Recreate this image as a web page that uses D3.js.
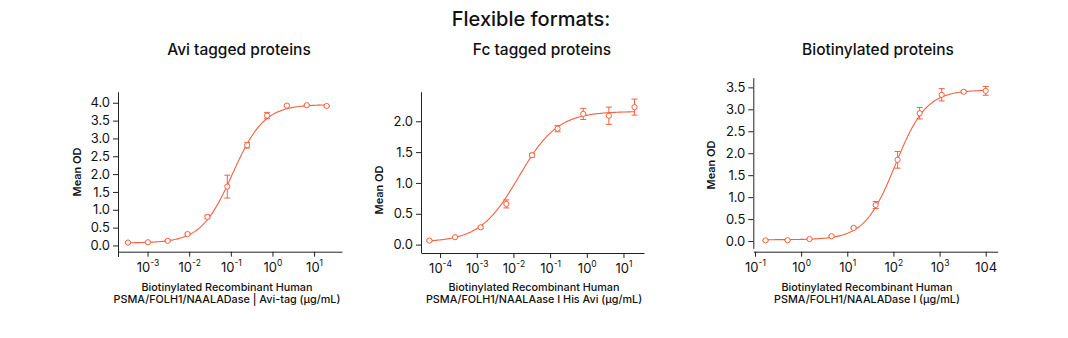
<!DOCTYPE html>
<html><head><meta charset="utf-8">
<script src="https://cdn.jsdelivr.net/npm/d3@7"></script>
<style>
body{margin:0;background:#fff;}
svg{display:block;font-family:Inter,"Noto Sans",sans-serif;}
</style></head>
<body><svg id="c" width="1068" height="338"></svg>
<script>
// ---- data ----
const mainTitle = "Flexible formats:";
const panelTitles = ["Avi tagged proteins", "Fc tagged proteins", "Biotinylated proteins"];
const xLabels = [
  ["Biotinylated Recombinant Human", "PSMA/FOLH1/NAALADase | Avi-tag (µg/mL)"],
  ["Biotinylated Recombinant Human", "PSMA/FOLH1/NAALAase I His Avi (µg/mL)"],
  ["Biotinylated Recombinant Human", "PSMA/FOLH1/NAALADase I (µg/mL)"]
];
const yLabel = "Mean OD";

const conc1 = [0.000339, 0.00102, 0.00305, 0.00914, 0.0274, 0.0823, 0.247, 0.741, 2.22, 6.67, 20];
const od1   = [0.08, 0.09, 0.13, 0.32, 0.80, 1.65, 2.81, 3.64, 3.92, 3.93, 3.91];
const err1  = [0.02, 0.02, 0.02, 0.03, 0.05, 0.32, 0.08, 0.09, 0.02, 0.02, 0.02];
const fit1  = [0.07, 3.95, 0.11, 1.15]; // bottom, top, EC50, hill

const conc2 = [0.0000512, 0.000256, 0.00128, 0.0064, 0.032, 0.16, 0.8, 4, 20];
const od2   = [0.065, 0.12, 0.28, 0.66, 1.45, 1.88, 2.12, 2.09, 2.23];
const err2  = [0.01, 0.01, 0.02, 0.065, 0.03, 0.05, 0.09, 0.14, 0.13];
const fit2  = [0.04, 2.16, 0.014, 0.82];

const conc3 = [0.169, 0.508, 1.52, 4.57, 13.7, 41.2, 123, 370, 1111, 3333, 10000];
const od3   = [0.015, 0.02, 0.045, 0.11, 0.30, 0.82, 1.85, 2.91, 3.33, 3.40, 3.42];
const err3  = [0.01, 0.01, 0.01, 0.02, 0.02, 0.08, 0.19, 0.13, 0.14, 0.03, 0.10];
const fit3  = [0.03, 3.44, 110, 1.3];

const xTicks1 = [1e-3, 1e-2, 1e-1, 1e0, 1e1];
const xTickLabels1 = [["10","-3"],["10","-2"],["10","-1"],["10","0"],["10","1"]];
const xTicks2 = [1e-4, 1e-3, 1e-2, 1e-1, 1e0, 1e1];
const xTickLabels2 = [["10","-4"],["10","-3"],["10","-2"],["10","-1"],["10","0"],["10","1"]];
const xTicks3 = [1e-1, 1e0, 1e1, 1e2, 1e3, 1e4];
const xTickLabels3 = [["10","-1"],["10","0"],["10","1"],["10","2"],["10","3"],["104",""]];

const yTicks1 = [0, 0.5, 1.0, 1.5, 2.0, 2.5, 3.0, 3.5, 4.0];
const yTicks2 = [0, 0.5, 1.0, 1.5, 2.0];
const yTicks3 = [0, 0.5, 1.0, 1.5, 2.0, 2.5, 3.0, 3.5];

// ---- layout ----
const color = "#f4603e";
const axisColor = "#222";
const panels = [
  {conc:conc1, od:od1, err:err1, fit:fit1, xt:xTicks1, xtl:xTickLabels1, yt:yTicks1,
   x0:118, x1:342, xd:[Math.pow(10,-3.71), Math.pow(10,1.67)],
   yTop:91.7, yBot:248.3, yd:[-0.08, 4.31], xAxisY:251.7, yAxisX:118, yExtend:257,
   title:panelTitles[0], titleX:239, ylabX:81, ylabY:172, xl:xLabels[0], xlX:227},
  {conc:conc2, od:od2, err:err2, fit:fit2, xt:xTicks2, xtl:xTickLabels2, yt:yTicks2,
   x0:421, x1:644, xd:[Math.pow(10,-4.52), Math.pow(10,1.56)],
   yTop:91.7, yBot:248, yd:[-0.055, 2.48], xAxisY:253, yAxisX:421, yExtend:253,
   title:panelTitles[1], titleX:542, ylabX:383, ylabY:190, xl:xLabels[1], xlX:534},
  {conc:conc3, od:od3, err:err3, fit:fit3, xt:xTicks3, xtl:xTickLabels3, yt:yTicks3,
   x0:753.3, x1:997.7, xd:[Math.pow(10,-1.037), Math.pow(10,4.26)],
   yTop:77.7, yBot:248.3, yd:[-0.165, 3.72], xAxisY:251.7, yAxisX:753.3, yExtend:null,
   title:panelTitles[2], titleX:878, ylabX:715, ylabY:165, xl:xLabels[2], xlX:867}
];

const svg = d3.select("#c");
svg.append("text").attr("x", 531).attr("y", 25.5).attr("text-anchor","middle")
  .attr("font-size", 20).attr("font-weight", 500).attr("fill","#111").text(mainTitle);

panels.forEach(p => {
  const g = svg.append("g");
  const x = d3.scaleLog().domain(p.xd).range([p.x0, p.x1]);
  const y = d3.scaleLinear().domain(p.yd).range([p.yBot, p.yTop]);

  g.append("text").attr("x", p.titleX).attr("y", 55).attr("text-anchor","middle")
    .attr("font-size", 15.5).attr("font-weight", 500).attr("fill","#111").text(p.title);

  // y axis
  const ya = g.append("g").attr("transform", `translate(${p.yAxisX},0)`)
    .call(d3.axisLeft(y).tickValues(p.yt).tickFormat(d3.format(".1f")).tickSize(5).tickSizeOuter(0));
  ya.selectAll("text").attr("font-size", 13).attr("fill", "#111").attr("font-family","Inter,sans-serif").attr("x", -8);
  ya.selectAll("line,path").attr("stroke", axisColor);
  if (p.yExtend) {
    g.append("line").attr("x1", p.yAxisX + 0.5).attr("x2", p.yAxisX + 0.5)
      .attr("y1", p.yBot).attr("y2", p.yExtend).attr("stroke", axisColor);
  }

  // x axis
  const xa = g.append("g").attr("transform", `translate(0,${p.xAxisY})`)
    .call(d3.axisBottom(x).tickValues(p.xt).tickFormat("").tickSize(5).tickSizeOuter(0));
  xa.selectAll("line,path").attr("stroke", axisColor);
  xa.selectAll(".tick").each(function(d, i) {
    const lab = p.xtl[i];
    const t = d3.select(this).append("text").attr("y", 20).attr("text-anchor","middle")
      .attr("fill","#111").attr("font-size", 13).attr("font-family","Inter,sans-serif");
    t.append("tspan").text(lab[0]);
    if (lab[1]) t.append("tspan").attr("font-size", 8.5).attr("dy", -6).text(lab[1]);
  });

  // y label
  g.append("text").attr("transform", `translate(${p.ylabX},${p.ylabY}) rotate(-90)`)
    .attr("text-anchor","middle").attr("font-size", 11).attr("font-weight", 600).attr("fill","#111").text(yLabel);

  // x label
  p.xl.forEach((s, i) => {
    g.append("text").attr("x", p.xlX).attr("y", 290.5 + i * 12.5).attr("text-anchor","middle")
      .attr("font-size", 10.8).attr("font-weight", 500).attr("fill","#111").text(s);
  });

  // fitted 4PL curve
  const [b, t, ec, h] = p.fit;
  const lx = d3.scaleLinear().domain([0, 200]).range([Math.log10(p.conc[0]), Math.log10(p.conc[p.conc.length-1])]);
  const pts = d3.range(201).map(i => {
    const c = Math.pow(10, lx(i));
    return [c, b + (t - b) / (1 + Math.pow(ec / c, h))];
  });
  g.append("path").datum(pts).attr("fill","none").attr("stroke", color).attr("stroke-width", 1.1)
    .attr("d", d3.line().x(d => x(d[0])).y(d => y(d[1])));

  // error bars
  const data = p.conc.map((c, i) => ({c, v: p.od[i], e: p.err[i]}));
  const eb = g.append("g").attr("stroke", color).attr("stroke-width", 1);
  data.forEach(d => {
    const cx = x(d.c);
    eb.append("line").attr("x1", cx).attr("x2", cx).attr("y1", y(d.v - d.e)).attr("y2", y(d.v + d.e));
    eb.append("line").attr("x1", cx - 3).attr("x2", cx + 3).attr("y1", y(d.v - d.e)).attr("y2", y(d.v - d.e));
    eb.append("line").attr("x1", cx - 3).attr("x2", cx + 3).attr("y1", y(d.v + d.e)).attr("y2", y(d.v + d.e));
  });
  // markers
  g.append("g").selectAll("circle").data(data).join("circle")
    .attr("cx", d => x(d.c)).attr("cy", d => y(d.v)).attr("r", 2.6)
    .attr("fill", "#fff").attr("stroke", color).attr("stroke-width", 1);
});
</script></body></html>
